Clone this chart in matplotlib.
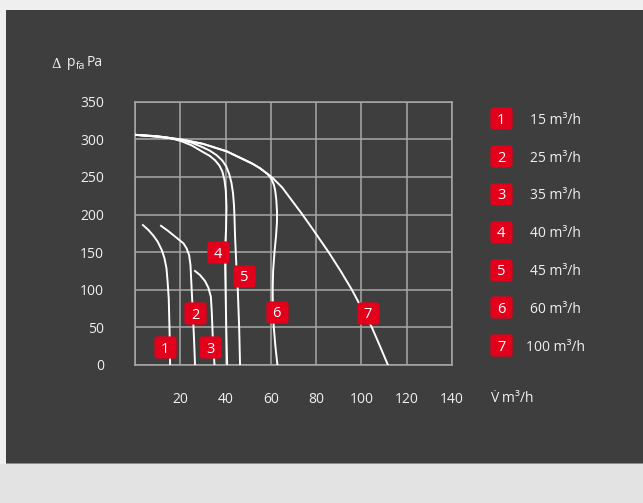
import matplotlib
matplotlib.use('Agg')
import matplotlib.pyplot as plt
import matplotlib.patches as mpatches
from matplotlib.lines import Line2D

plt.rcParams['font.family'] = ['Open Sans', 'DejaVu Sans']
plt.rcParams['mathtext.fontset'] = 'custom'
plt.rcParams['mathtext.rm'] = 'Open Sans'
plt.rcParams['mathtext.it'] = 'Open Sans:italic'
plt.rcParams['mathtext.bf'] = 'Open Sans:bold'

# ---------------- data ----------------
x_ticks = [0, 20, 40, 60, 80, 100, 120, 140]
x_tick_labels = ['', '20', '40', '60', '80', '100', '120', '140']
y_ticks = [0, 50, 100, 150, 200, 250, 300, 350]
y_tick_labels = ['0', '50', '100', '150', '200', '250', '300', '350']

curve1_x = [3.5, 5.9, 8.1, 10.0, 11.8, 13.0, 13.9, 14.4, 14.9, 15.2, 15.4, 15.5]
curve1_y = [186, 179.5, 172, 164, 153, 142, 128.5, 110.8, 88.6, 53, 25, 0]

curve2_x = [11.5, 14.7, 18.4, 21.4, 22.8, 23.9, 24.5, 25.0, 25.4, 25.8, 26.2, 26.5]
curve2_y = [185, 178, 169, 161.7, 155, 146, 133, 102, 78, 53, 25, 0]

curve3_x = [26.5, 28.7, 30.9, 32.4, 33.5, 33.9, 34.3, 34.7, 35.1]
curve3_y = [125, 119.6, 111.7, 102.8, 90.8, 70.9, 40, 20, 0]

curve4_x = [0, 10, 15, 20, 25, 29.5, 33, 35.4, 37.3, 38.6, 39.5, 40.1, 40.4, 40.2, 39.9, 39.8, 40.0, 40.3, 40.7]
curve4_y = [306, 304, 302, 298, 292, 284, 278, 272, 265, 257, 246, 232, 210, 180, 160, 130, 100, 50, 0]

curve5_x = [0, 10, 15, 20, 25, 29.5, 33, 36, 38.5, 40.3, 41.6, 42.6, 43.3, 43.7, 43.9, 44.2, 44.8, 45.4, 46.0, 46.4]
curve5_y = [306, 304, 302, 299, 295.5, 290, 285, 279, 272, 264, 254, 242, 228, 213, 200, 170, 130, 100, 50, 0]

curve6_x = [0, 10, 20, 30, 40.5, 51.6, 55, 58.5, 60.3, 61.3, 61.9, 62.4, 62.7, 62.7, 62.3, 61.6, 61.0, 60.8, 60.9, 61.3, 62.0, 62.9]
curve6_y = [306, 303.5, 300, 294, 284, 268, 262, 254, 247, 240, 232, 220, 205, 190, 172, 150, 125, 100, 75, 50, 25, 0]

curve7_x = [0, 10, 20, 30, 40.5, 51.6, 55, 59, 61, 63, 65, 70.7, 73.7, 77, 80, 85.5, 90.8, 95.8, 100.2, 104.6, 108.2, 111.7]
curve7_y = [306, 303.5, 300, 294, 284, 268, 262, 253, 248, 242, 236, 213, 201, 187, 174, 150, 125, 100, 75, 50, 25, 0]

curves_x = [curve1_x, curve2_x, curve3_x, curve4_x, curve5_x, curve6_x, curve7_x]
curves_y = [curve1_y, curve2_y, curve3_y, curve4_y, curve5_y, curve6_y, curve7_y]

label_numbers = ['1', '2', '3', '4', '5', '6', '7']
label_x = [13.3, 26.5, 33.2, 36.6, 48.2, 62.6, 102.7]
label_y = [23.7, 68.7, 23.7, 149.8, 118.8, 71, 69.4]

legend_labels = ['15 m³/h', '25 m³/h', '35 m³/h', '40 m³/h', '45 m³/h', '60 m³/h', '100 m³/h']

# ---------------- style ----------------
W, H = 643, 503
RED = '#e2001a'
GRID = '#a9a9a9'
TXT = '#f0f0f0'
DARK = '#3e3e3e'

fig = plt.figure(figsize=(W / 100, H / 100), dpi=100)
fig.patch.set_facecolor('#e3e3e3')


def fx(px):
    return px / W


def fy(py):
    return 1 - py / H


def rect(x0, y0, x1, y1, color, z=0):
    fig.add_artist(mpatches.Rectangle((fx(x0), fy(y1)), (x1 - x0) / W, (y1 - y0) / H,
                                      transform=fig.transFigure, facecolor=color,
                                      edgecolor='none', zorder=z))


rect(0, 0, W, 10, '#efefef')
rect(0, 10, 6, 464, '#efefef')
rect(6, 10, W, 464, DARK)
rect(6, 463.3, W, 464.3, '#8c8c8c')

# rounded square marker
rs_path = mpatches.FancyBboxPatch((-0.5, -0.5), 1, 1,
                                  boxstyle='round,pad=0,rounding_size=0.14').get_path()

ax = fig.add_axes([fx(135), fy(365), (452 - 135) / W, (365 - 101.7) / H])
ax.set_facecolor('none')
ax.set_xlim(0, 140)
ax.set_ylim(0, 350)
ax.set_xticks(x_ticks)
ax.set_xticklabels(x_tick_labels)
ax.set_yticks(y_ticks)
ax.set_yticklabels(y_tick_labels)
ax.grid(True, color=GRID, lw=1.1)
ax.set_axisbelow(True)
for s in ax.spines.values():
    s.set_color(GRID)
    s.set_linewidth(1.1)
ax.tick_params(axis='x', length=0, pad=19.5, labelsize=10, labelcolor=TXT)
ax.tick_params(axis='y', length=0, pad=22.3, labelsize=10, labelcolor=TXT)

for cx, cy in zip(curves_x, curves_y):
    ax.plot(cx, cy, color='white', lw=1.4, solid_joinstyle='round', zorder=3)

for n, lx, ly in zip(label_numbers, label_x, label_y):
    ax.plot([lx], [ly], marker=rs_path, ms=16, color=RED, mec='none', zorder=5)
    ax.text(lx, ly, n, ha='center', va='center_baseline', color='white', fontsize=10.5, zorder=6)

# legend
for i, lab in enumerate(legend_labels):
    py = 118.3 + i * 37.8
    fig.add_artist(Line2D([fx(501.2)], [fy(py)], transform=fig.transFigure, marker=rs_path,
                          ms=16, color=RED, mec='none'))
    fig.text(fx(501.2), fy(py), label_numbers[i], ha='center', va='center_baseline',
             color='white', fontsize=10.5)
    fig.text(fx(555), fy(py), lab, ha='center', va='center_baseline', color=TXT, fontsize=10)

# axis titles
fig.text(fx(51.5), fy(68.5), 'Δ', ha='left', va='baseline', color=TXT, fontsize=9.5,
         family=['DejaVu Serif'])
fig.text(fx(67), fy(66), 'p', ha='left', va='baseline', color=TXT, fontsize=10)
fig.text(fx(75.5), fy(69), 'fa', ha='left', va='baseline', color=TXT, fontsize=7.5)
fig.text(fx(87), fy(66), 'Pa', ha='left', va='baseline', color=TXT, fontsize=10)

fig.text(fx(490), fy(403), r'$\dot{\mathrm{V}}$ m³/h', ha='left', va='baseline',
         color=TXT, fontsize=10)

fig.savefig('out.png', dpi=100, facecolor=fig.get_facecolor())
